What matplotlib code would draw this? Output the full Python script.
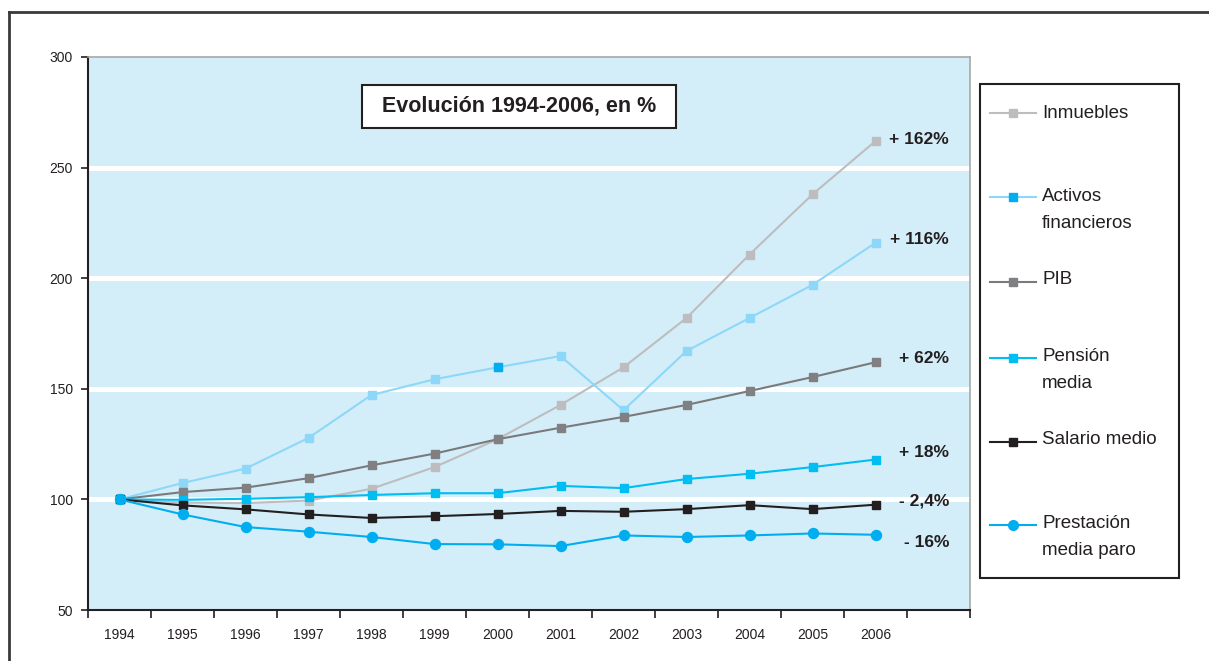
import matplotlib.pyplot as plt
from matplotlib.lines import Line2D
from matplotlib.patches import Rectangle

plt.rcParams['font.family'] = ['Liberation Sans', 'DejaVu Sans']

W, H = 1209, 661

years = ['1994', '1995', '1996', '1997', '1998', '1999', '2000',
         '2001', '2002', '2003', '2004', '2005', '2006']
inmuebles = [100, 98.6, 98.3, 99.5, 104.8, 114.6, 127.2, 142.7, 159.7, 182.0, 210.7, 237.9, 262.0]
activos = [100, 107.4, 113.9, 127.8, 147.2, 154.3, 159.7, 164.8, 140.3, 167.1, 182.0, 197.0, 216.0]
pib = [100, 103.3, 105.3, 109.6, 115.4, 120.7, 127.2, 132.4, 137.3, 142.7, 149.0, 155.3, 162.0]
pension = [100, 99.8, 100.3, 101.0, 102.0, 102.8, 102.8, 106.1, 105.1, 109.2, 111.6, 114.6, 118.0]
salario = [100, 97.3, 95.5, 93.2, 91.6, 92.4, 93.4, 94.8, 94.4, 95.6, 97.4, 95.6, 97.6]
paro = [100, 93.2, 87.5, 85.4, 83.0, 79.8, 79.7, 78.9, 83.7, 83.0, 83.7, 84.6, 84.0]

end_labels = ['+ 162%', '+ 116%', '+ 62%', '+ 18%', '- 2,4%', '- 16%']
end_label_y = [262.5, 217.3, 163.5, 121.0, 99.3, 80.7]

BG = '#D4EEF9'
DARK = '#231F20'

fig = plt.figure(figsize=(W / 100, H / 100), dpi=100)
ax = fig.add_axes([88 / W, 1 - 610 / H, 882 / W, 553 / H])
ax.set_facecolor(BG)

x = list(range(len(years)))

# series: (values, line colour, marker colour, marker, size)
series = [
    (inmuebles, '#BDBDBF', '#BDBDBF', 's', 6.3),
    (activos, '#8DD8F8', '#8DD8F8', 's', 6.3),
    (pib, '#7A7A7C', '#808082', 's', 6.3),
    (pension, '#00BDF2', '#00BDF2', 's', 6.3),
    (salario, DARK, DARK, 's', 6.3),
    (paro, '#00AEEF', '#00AEEF', 'o', 7.2),
]
for vals, lc, mc, mk, ms in series:
    ax.plot(x, vals, color=lc, lw=1.5, marker=mk, ms=ms, mfc=mc, mec=mc, zorder=3)
    if vals is activos:
        # one highlighted point on the assets line
        ax.plot(x, vals, ls='none', marker='s', ms=ms, mfc='#00AEEF', mec='#00AEEF',
                markevery=[6], zorder=3)

for txt, yv in zip(end_labels, end_label_y):
    ax.text(13.17, yv, txt, ha='right', va='center', fontsize=12.5,
            fontweight='bold', color=DARK, zorder=4)

ax.set_xlim(-0.5, 13.5)
ax.set_ylim(50, 300)
for g in [100, 150, 200, 250]:
    ax.axhline(g, color='white', lw=3.6, zorder=1)

ax.set_yticks([50, 100, 150, 200, 250, 300])
ax.tick_params(axis='y', direction='out', length=5, width=1.2, color=DARK,
               labelsize=10, labelcolor=DARK, pad=6)
ax.set_xticks([i - 0.5 for i in range(15)])
ax.set_xticklabels([])
ax.set_xticks(x, minor=True)
ax.set_xticklabels(years, minor=True)
ax.tick_params(axis='x', which='major', direction='out', length=6, width=1.2, color=DARK)
ax.tick_params(axis='x', which='minor', length=0, labelsize=10, labelcolor=DARK, pad=13)

ax.spines['left'].set_color(DARK)
ax.spines['left'].set_linewidth(1.5)
ax.spines['bottom'].set_color(DARK)
ax.spines['bottom'].set_linewidth(1.5)
ax.spines['top'].set_color('#A8A8A8')
ax.spines['top'].set_linewidth(1.2)
ax.spines['right'].set_color('#A8A8A8')
ax.spines['right'].set_linewidth(1.2)


def fx(px):
    return px / W


def fy(py):
    return 1 - py / H


# title box inside the plot area
fig.patches.append(Rectangle((fx(362), fy(128)), (676 - 362) / W, 43 / H,
                             transform=fig.transFigure, facecolor='white',
                             edgecolor=DARK, lw=1.5, zorder=5))
fig.text(fx(519), fy(106), 'Evolución 1994-2006, en %', ha='center', va='center',
         fontsize=15.5, fontweight='bold', color=DARK, zorder=6)

# legend box on the right
fig.patches.append(Rectangle((fx(980), fy(578)), 199 / W, 494 / H,
                             transform=fig.transFigure, facecolor='white',
                             edgecolor=DARK, lw=1.5, zorder=5))
leg_labels = ['Inmuebles', 'Activos\nfinancieros', 'PIB', 'Pensión\nmedia',
              'Salario medio', 'Prestación\nmedia paro']
leg_line = ['#BDBDBF', '#8DD8F8', '#7A7A7C', '#00BDF2', DARK, '#00AEEF']
leg_mark = ['#BDBDBF', '#00AEEF', '#808082', '#00BDF2', DARK, '#00AEEF']
leg_shape = ['s', 's', 's', 's', 's', 'o']
handle_y = [113, 197, 282, 358, 442, 525]
base_y = [118, 201, 284, 361, 444, 528]
for lab, lc, mc, mk, hy, by in zip(leg_labels, leg_line, leg_mark, leg_shape, handle_y, base_y):
    fig.lines.append(Line2D([fx(990), fx(1036)], [fy(hy), fy(hy)], transform=fig.transFigure,
                            color=lc, lw=1.5, zorder=6))
    fig.lines.append(Line2D([fx(1013)], [fy(hy)], transform=fig.transFigure, ls='none',
                            marker=mk, ms=6.3 if mk == 's' else 7, mfc=mc, mec=mc, zorder=7))
    for k, part in enumerate(lab.split('\n')):
        fig.text(fx(1042), fy(by + 27 * k), part, ha='left', va='baseline',
                 fontsize=13.5, color=DARK, zorder=7)

# outer frame (top and left edges)
fig.lines.append(Line2D([fx(9), 1], [fy(12), fy(12)], transform=fig.transFigure,
                        color='#3A3A3A', lw=2))
fig.lines.append(Line2D([fx(9), fx(9)], [0, fy(12)], transform=fig.transFigure,
                        color='#3A3A3A', lw=2))

fig.savefig('out.png', dpi=100, facecolor='white')
